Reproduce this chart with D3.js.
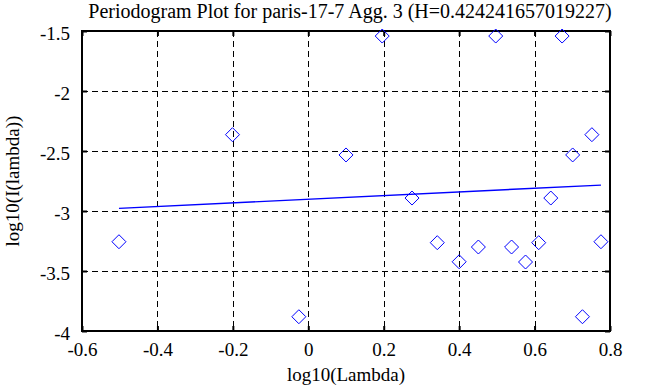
<!DOCTYPE html>
<html>
<head>
<meta charset="utf-8">
<script src="https://cdn.jsdelivr.net/npm/d3@7"></script>
<style>
  html, body { margin: 0; padding: 0; background: #fff; }
  svg { display: block; }
  text { font-family: "Liberation Serif", "Times New Roman", serif; fill: #000; }
</style>
</head>
<body>
<svg id="chart" width="653" height="387"></svg>
<script>
// ---- data ----
const logLambda = [-0.502, -0.201, -0.025, 0.100, 0.196, 0.275, 0.342, 0.400, 0.451, 0.497,
                   0.539, 0.576, 0.611, 0.643, 0.673, 0.701, 0.727, 0.752, 0.776];
const logI = [-3.256, -2.364, -3.881, -2.533, -1.542, -2.892, -3.264, -3.423, -3.300, -1.542,
              -3.300, -3.425, -3.264, -2.892, -1.542, -2.533, -3.881, -2.364, -3.256];
const fitX = [-0.502, 0.776];
const fitY = [-2.978, -2.784];
const xTicks = [-0.6, -0.4, -0.2, 0, 0.2, 0.4, 0.6, 0.8];
const yTicks = [-4, -3.5, -3, -2.5, -2, -1.5];
const titleText = "Periodogram Plot for paris-17-7 Agg. 3 (H=0.424241657019227)";
const xLabel = "log10(Lambda)";
const yLabel = "log10(I(lambda))";

// ---- layout ----
const L = 82, R = 610, T = 31, B = 331;
const svg = d3.select("#chart");
const x = d3.scaleLinear().domain([-0.6, 0.8]).range([L, R]);
const y = d3.scaleLinear().domain([-4, -1.5]).range([B, T]);

const fmt = d => String(d);

// grid (dashed), interior ticks only
const innerX = xTicks.filter(d => d > -0.6 && d < 0.8);
const innerY = yTicks.filter(d => d > -4 && d < -1.5);
const grid = svg.append("g").attr("stroke", "#000").attr("stroke-width", 1)
  .attr("stroke-dasharray", "6,4").attr("shape-rendering", "crispEdges");
grid.selectAll("line.vx").data(innerX).join("line")
  .attr("x1", d => Math.round(x(d)) + 0.5).attr("x2", d => Math.round(x(d)) + 0.5)
  .attr("y1", T).attr("y2", B);
grid.selectAll("line.hy").data(innerY).join("line")
  .attr("y1", d => Math.round(y(d)) + 0.5).attr("y2", d => Math.round(y(d)) + 0.5)
  .attr("x1", L).attr("x2", R);

// axes with inward ticks
const axB = d3.axisBottom(x).tickValues(xTicks).tickSize(-5).tickPadding(12).tickFormat(fmt);
const axT = d3.axisTop(x).tickValues(xTicks).tickSize(-5).tickFormat("");
const axL = d3.axisLeft(y).tickValues(yTicks).tickSize(-5).tickPadding(12).tickFormat(fmt);
const axR = d3.axisRight(y).tickValues(yTicks).tickSize(-5).tickFormat("");

function styleAxis(g) {
  g.select(".domain").remove();
  g.selectAll(".tick line").attr("stroke", "#000").attr("stroke-width", 2);
  g.selectAll(".tick text").attr("font-size", 19)
    .attr("font-family", "Liberation Serif, serif").attr("fill", "#000");
}
svg.append("g").attr("transform", `translate(0,${B})`).call(axB).call(styleAxis);
svg.append("g").attr("transform", `translate(0,${T})`).call(axT).call(styleAxis);
svg.append("g").attr("transform", `translate(${L},0)`).call(axL).call(styleAxis)
  .selectAll(".tick text").attr("dy", "0.45em");
svg.append("g").attr("transform", `translate(${R},0)`).call(axR).call(styleAxis);

// frame
svg.append("rect").attr("x", L).attr("y", T).attr("width", R - L).attr("height", B - T)
  .attr("fill", "none").attr("stroke", "#000").attr("stroke-width", 2);

// fitted line
const line = d3.line().x(d => x(d[0])).y(d => y(d[1]));
svg.append("path").datum(fitX.map((v, i) => [v, fitY[i]]))
  .attr("d", line).attr("fill", "none").attr("stroke", "#0000ff").attr("stroke-width", 1.4);

// diamond markers
const r = 7;
svg.append("g").selectAll("path").data(logLambda.map((v, i) => [v, logI[i]])).join("path")
  .attr("d", d => {
    const cx = x(d[0]), cy = y(d[1]);
    return `M${cx},${cy - r}L${cx + r},${cy}L${cx},${cy + r}L${cx - r},${cy}Z`;
  })
  .attr("fill", "none").attr("stroke", "#0000ff").attr("stroke-width", 1);

// title and labels
svg.append("text").attr("x", (L + R) / 2 + 4).attr("y", 18).attr("text-anchor", "middle")
  .attr("font-size", 20).text(titleText);
svg.append("text").attr("x", (L + R) / 2).attr("y", 381).attr("text-anchor", "middle")
  .attr("font-size", 19).text(xLabel);
svg.append("text").attr("transform", `translate(19,${(T + B) / 2}) rotate(-90)`)
  .attr("text-anchor", "middle").attr("font-size", 19).text(yLabel);
</script>
</body>
</html>
